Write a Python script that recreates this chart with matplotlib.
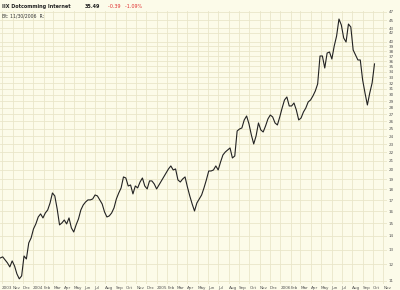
import numpy as np
import pandas as pd
from matplotlib import pyplot as plt
from matplotlib.ticker import NullLocator

# weekly closes, starting with the week ending 2003-09-26
close = [
    12.43, 12.50, 12.30, 12.10, 11.84, 12.23, 11.90, 11.40, 11.10, 11.28,
    12.56, 12.36, 13.48, 13.85, 14.54, 14.94, 15.51, 15.77, 15.43, 15.85,
    16.11, 16.73, 17.66, 17.38, 16.20, 14.86, 15.02, 15.26, 14.94, 15.43,
    14.62, 14.30, 14.86, 15.35, 16.11, 16.55, 16.82, 17.01, 17.01, 17.10,
    17.47, 17.38, 17.01, 16.64, 15.94, 15.51, 15.60, 15.85, 16.29, 17.10,
    17.66, 18.15, 19.26, 19.15, 18.34, 18.44, 17.57, 18.34, 18.15, 18.74,
    19.15, 18.34, 18.05, 18.85, 18.85, 18.54, 18.05, 18.44, 18.85, 19.26,
    19.68, 20.11, 20.44, 20.00, 20.11, 18.95, 18.74, 19.05, 19.26, 18.24,
    17.38, 16.64, 16.02, 16.73, 17.10, 17.47, 18.15, 18.95, 19.89, 19.89,
    20.00, 20.44, 20.00, 20.88, 21.69, 22.04, 22.28, 22.53, 21.34, 21.57,
    24.69, 24.96, 25.10, 26.21, 26.78, 25.65, 24.17, 23.02, 24.04, 25.79,
    24.83, 24.56, 25.37, 26.35, 26.92, 26.64, 25.79, 25.51, 26.64, 27.96,
    29.20, 29.68, 28.27, 28.27, 28.73, 27.66, 26.21, 26.49, 27.36, 27.96,
    28.89, 29.20, 29.84, 30.65, 31.84, 37.04, 37.04, 34.71, 37.64, 37.85,
    36.44, 39.10, 41.27, 45.24, 43.80, 40.83, 39.95, 44.03, 43.33, 38.26,
    37.24, 36.25, 36.25, 32.53, 30.32, 28.42, 30.32, 32.01, 35.49,
]
ytick_vals = [47, 45, 43, 42, 40, 39, 38, 37, 36, 35, 34, 33, 32, 31, 30, 29, 28,
              27, 26, 25, 24, 23, 22, 21, 20, 19, 18, 17, 16, 15, 14, 13, 12, 11]
title = 'IIX Dotcomming Internet'
last_txt = '35.49'
chg_txt = '-0.39   -1.09%'
date_txt = 'Bt: 11/30/2006  R:'

bg = '#fcfbe9'
grid_c = '#e9e6c9'

dates = pd.date_range('2003-09-26', periods=len(close), freq='W-FRI')

fig = plt.figure(figsize=(4, 2.9), dpi=100, facecolor=bg)
ax = fig.add_axes([0.0, 0.021, 0.9675, 0.941])
ax.set_facecolor(bg)

ax.plot(dates, close, color='#222222', lw=0.8)

ax.set_yscale('log')
ax.set_ylim(10.8, 47.24)
ax.set_xlim(pd.Timestamp('2003-09-25'), pd.Timestamp('2006-11-12'))

# month gridlines, Jan shows the year
months = pd.date_range('2003-10-01', '2006-11-01', freq='MS')
mlabels = [str(m.year) if (m.month == 1 or i == 0) else m.strftime('%b')
           for i, m in enumerate(months)]
ax.set_xticks(months)
ax.set_xticklabels(mlabels, ha='left', fontsize=3.0, color='#555555')

ax.yaxis.tick_right()
ax.yaxis.set_minor_locator(NullLocator())
ax.set_yticks(ytick_vals)
ax.set_yticklabels([str(v) for v in ytick_vals], fontsize=3.0, color='#555555')
ax.yaxis.set_minor_formatter(plt.NullFormatter())

ax.tick_params(axis='both', length=0, pad=1.5)
ax.grid(True, color=grid_c, lw=0.6)
ax.set_axisbelow(True)
for s in ax.spines.values():
    s.set_visible(False)

fig.text(0.005, 0.985, title, fontsize=3.5, color='#222222', va='top', weight='bold')
fig.text(0.212, 0.985, last_txt, fontsize=3.5, color='#222222', va='top', weight='bold')
fig.text(0.27, 0.985, chg_txt, fontsize=3.5, color='#e03030', va='top')
fig.text(0.005, 0.955, date_txt, fontsize=3.3, color='#333333', va='top')

plt.savefig('out.png', dpi=100, facecolor=bg)
